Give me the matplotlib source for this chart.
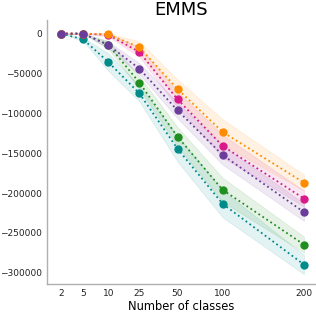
import numpy as np
import matplotlib.pyplot as plt

# --- data ---
classes = [2, 5, 10, 25, 50, 100, 200]
# relative horizontal spacing of the class ticks on the original axis
tick_pos = [0, 22, 47, 78, 116, 161, 242]

teal = [0, -7100, -35600, -75000, -144500, -213600, -289800]
teal_sd = [0, 2000, 11000, 10000, 16000, 17000, 12000]
green = [0, 0, -14000, -61500, -129400, -196000, -264700]
green_sd = [0, 0, 5000, 8000, 12000, 15000, 10000]
orange = [0, 0, -800, -17200, -69500, -123500, -187000]
orange_sd = [0, 0, 1500, 7500, 12000, 16000, 10000]
pink = [0, 0, -1500, -23000, -82500, -141000, -207000]
pink_sd = [0, 0, 2000, 6000, 10000, 14000, 10000]
purple = [0, 0, -14200, -44000, -96300, -152400, -224000]
purple_sd = [0, 0, 4000, 7000, 10000, 12000, 11000]

series = [
    (teal, teal_sd, "#008b8b"),
    (green, green_sd, "#1f8f1f"),
    (pink, pink_sd, "#d9198a"),
    (orange, orange_sd, "#ff8c00"),
    (purple, purple_sd, "#6a3d9a"),
]


def _interp_ext(v, xs, ys):
    v = np.asarray(v, dtype=float)
    out = np.interp(v, xs, ys)
    s0 = (ys[1] - ys[0]) / (xs[1] - xs[0])
    s1 = (ys[-1] - ys[-2]) / (xs[-1] - xs[-2])
    out = np.where(v < xs[0], ys[0] + (v - xs[0]) * s0, out)
    out = np.where(v > xs[-1], ys[-1] + (v - xs[-1]) * s1, out)
    return out


def fwd(v):
    return _interp_ext(v, classes, tick_pos)


def inv(v):
    return _interp_ext(v, tick_pos, classes)


fig = plt.figure(figsize=(3.16, 3.14), dpi=100)
ax = fig.add_axes([0.149, 0.096, 0.851, 0.84])
ax.set_xscale("function", functions=(fwd, inv))

for vals, sd, col in series:
    vals = np.array(vals)
    sd = np.array(sd)
    ax.fill_between(classes, vals - sd, vals + sd, color=col, alpha=0.11, lw=0.6)
    ax.plot(classes, vals, ":", color=col, lw=1.3, marker="o", ms=5)

ax.set_xlim(inv(-14), inv(254))
ax.set_ylim(-314000, 17000)
ax.set_xticks(classes)
ax.set_xticklabels([str(c) for c in classes])
ax.set_yticks([0, -50000, -100000, -150000, -200000, -250000, -300000])
ax.tick_params(length=0, labelsize=6.5, colors="#222222", pad=3.5)
ax.minorticks_off()

for s in ["top", "right"]:
    ax.spines[s].set_visible(False)
for s in ["left", "bottom"]:
    ax.spines[s].set_color("#b0b0b0")
    ax.spines[s].set_linewidth(1.0)

ax.set_xlabel("Number of classes", fontsize=8.3, labelpad=2)
ax.set_title("EMMS", fontsize=13, pad=4)

fig.savefig("out.png", dpi=100)
